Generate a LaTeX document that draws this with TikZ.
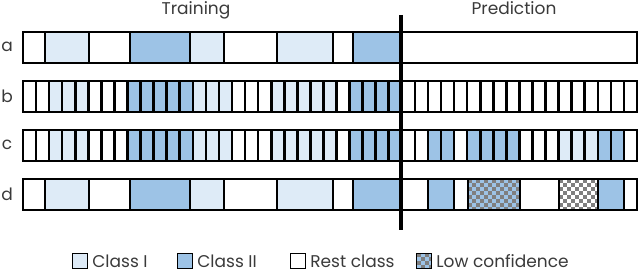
\documentclass[tikz,border=0pt]{standalone}
\usepackage{fontspec}
\setmainfont{Poppins}
\usetikzlibrary{positioning}
\definecolor{clsone}{HTML}{DEEBF7}
\definecolor{clstwo}{HTML}{9DC3E6}
\definecolor{txtgray}{HTML}{3A3A3A}
\definecolor{chkgray}{HTML}{7F7F7F}
\tikzset{
  seg/.style={draw=black, line width=2.6pt},
  rest/.style={fill=white},
  one/.style={fill=clsone},
  two/.style={fill=clstwo},
  low/.style={fill=#1, path picture={
    \foreach \cy in {0,...,8} {
      \pgfmathtruncatemacro\sh{mod(\cy,2)}
      \foreach \cx in {0,...,7}
        \fill[chkgray] ([shift={(8*\cx+4*\sh,4*\cy)}]path picture bounding box.north west) rectangle ++(4,4);
    }}},
  lowA/.style={low=clstwo},
  lowB/.style={low=white},
  lbl/.style={text=txtgray, font=\fontsize{17}{20}\selectfont, inner sep=0pt},
  key/.style={draw=black, line width=1.3pt, minimum size=15pt, inner sep=0pt}
}
\begin{document}
\begin{tikzpicture}[x=1pt,y=-1pt]
\useasboundingbox (0,0) rectangle (640,272);

\node[lbl, anchor=base] (train) at (196,15) {Training};
\node[lbl, anchor=base] (pred) at (514,15) {Prediction};

\node[lbl] (rowA) at (7,47) {a};
\node[lbl] (rowB) at (7,96) {b};
\node[lbl] (rowC) at (7,145) {c};
\node[lbl] (rowD) at (7,194) {d};

% rows a and d, training part
\foreach \y in {32,179}
  \foreach \xa/\xb/\s in {23/45/rest, 45/89/one, 89/130/rest, 130/190/two, 190/224/one,
                          224/277/rest, 277/333/one, 333/353/rest, 353/401/two}
    \draw[seg,\s] (\xa,\y) rectangle (\xb,\y+31);
% row a, prediction
\draw[seg,rest] (401,32) rectangle (637,63);
% row d, prediction
\foreach \xa/\xb/\s in {401/428/rest, 428/454/two, 454/468/rest, 468/520/lowA,
                        520/559/rest, 559/598/lowB, 598/624/two, 624/637/rest}
  \draw[seg,\s] (\xa,179) rectangle (\xb,210);

% rows b and c, training part
\foreach \y in {81,130}
  \foreach \s [count=\i from 0] in {rest,rest,one,one,one,rest,rest,rest,two,two,two,two,two,
                                    one,one,one,rest,rest,rest,one,one,one,one,one,rest,two,two,two,two}
    \draw[seg,\s] ({23+\i*13.064},\y) rectangle ({23+(\i+1)*13.064},\y+31);
% row b, prediction
\foreach \i in {29,...,46}
  \draw[seg,rest] ({23+\i*13.064},81) rectangle ({23+(\i+1)*13.064},112);
% row c, prediction
\foreach \s [count=\i from 29] in {rest,rest,two,two,rest,two,two,two,two,
                                   rest,rest,rest,one,one,one,two,two,rest}
  \draw[seg,\s] ({23+\i*13.064},130) rectangle ({23+(\i+1)*13.064},161);

\coordinate (divtop) at (401,15);
\coordinate (divbot) at (401,230);
\draw[line width=3.2pt] (divtop) -- (divbot);

% legend
\node[key,one] (keyOne) at (80,261) {};
\node[lbl, right=4pt of keyOne] (txtOne) {Class I};
\node[key,two] (keyTwo) at (185,261) {};
\node[lbl, right=4pt of keyTwo] (txtTwo) {Class II};
\node[key,rest] (keyRest) at (298,261) {};
\node[lbl, right=4pt of keyRest] (txtRest) {Rest class};
\node[key,lowA] (keyLow) at (424,261) {};
\node[lbl, right=4pt of keyLow] (txtLow) {Low confidence};
\end{tikzpicture}
\end{document}
